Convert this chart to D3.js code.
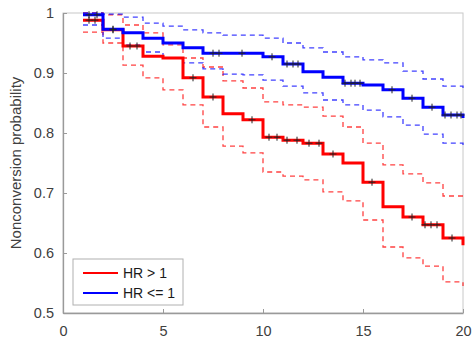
<!DOCTYPE html>
<html>
<head>
<meta charset="utf-8">
<script src="https://cdn.jsdelivr.net/npm/d3@7"></script>
<style>
  body { margin: 0; background: #fff; }
  text { font-family: "Liberation Sans", Arial, sans-serif; }
</style>
</head>
<body>
<script>
// step times (start of each interval), last one is the end of follow-up
const times = [1, 2, 3, 4, 5, 6, 7, 8, 9, 10, 11, 12, 13, 14, 15, 16, 17, 18, 19, 20];

// HR > 1
const redSurv  = [0.988, 0.972, 0.945, 0.928, 0.925, 0.892, 0.86, 0.832, 0.822, 0.793, 0.788, 0.783, 0.765, 0.75, 0.718, 0.677, 0.66, 0.647, 0.625, 0.613];
const redUpper = [1.0, 0.997, 0.98, 0.967, 0.947, 0.925, 0.91, 0.887, 0.875, 0.852, 0.847, 0.843, 0.828, 0.81, 0.783, 0.747, 0.732, 0.717, 0.695, 0.69];
const redLower = [0.968, 0.95, 0.913, 0.892, 0.872, 0.847, 0.81, 0.778, 0.767, 0.735, 0.728, 0.722, 0.702, 0.687, 0.655, 0.61, 0.592, 0.578, 0.552, 0.545];
const redCensor = [1.3, 1.6, 2.5, 3.35, 3.7, 6.5, 7.5, 9.45, 10.3, 10.7, 11.2, 11.7, 12.3, 12.8, 13.5, 15.45, 17.45, 18.1, 18.4, 18.7, 19.45];

// HR <= 1
const blueSurv  = [0.997, 0.973, 0.967, 0.958, 0.95, 0.942, 0.933, 0.933, 0.933, 0.927, 0.915, 0.902, 0.893, 0.883, 0.88, 0.872, 0.858, 0.843, 0.83, 0.825];
const blueUpper = [1.0, 0.998, 0.993, 0.983, 0.978, 0.972, 0.967, 0.963, 0.963, 0.958, 0.95, 0.942, 0.935, 0.927, 0.922, 0.917, 0.903, 0.89, 0.878, 0.875];
const blueLower = [0.98, 0.958, 0.947, 0.935, 0.925, 0.917, 0.907, 0.898, 0.897, 0.888, 0.878, 0.867, 0.855, 0.847, 0.838, 0.827, 0.813, 0.798, 0.783, 0.778];
const blueCensor = [1.3, 1.7, 2.5, 7.5, 7.8, 8.95, 10.45, 11.2, 11.5, 11.75, 14.1, 14.4, 14.6, 14.85, 16.45, 17.45, 18.45, 19.1, 19.4, 19.7, 19.9];

const xTicks = [0, 5, 10, 15, 20];
const yTicks = [0.5, 0.6, 0.7, 0.8, 0.9, 1];
const legendLabels = ["HR > 1", "HR <= 1"];

const W = 472, H = 346;
const margin = {top: 13, right: 9, bottom: 33, left: 63};

const svg = d3.select("body").append("svg")
    .attr("width", W)
    .attr("height", H);

let x = d3.scaleLinear().domain([0, 20]).range([margin.left, W - margin.right]);
let y = d3.scaleLinear().domain([0.5, 1]).range([H - margin.bottom, margin.top]);

// box
svg.append("rect")
    .attr("x", x(0)).attr("y", y(1))
    .attr("width", x(20) - x(0)).attr("height", y(0.5) - y(1))
    .attr("fill", "#fff")
    .attr("stroke", "#c8c8c8")
    .attr("stroke-width", 1);

// axes, ticks pointing inward like matlab
let xAxis = svg.append("g")
    .attr("transform", "translate(0," + y(0.5) + ")")
    .call(d3.axisBottom(x).tickValues(xTicks).tickSizeInner(-4).tickSizeOuter(0).tickPadding(10));
let yAxis = svg.append("g")
    .attr("transform", "translate(" + x(0) + ",0)")
    .call(d3.axisLeft(y).tickValues(yTicks).tickFormat(d3.format("~g")).tickSizeInner(-4).tickSizeOuter(0).tickPadding(9));

[xAxis, yAxis].forEach(function(g) {
    g.select(".domain").attr("stroke", "#9a9a9a").attr("stroke-width", 1.3);
    g.selectAll(".tick line").attr("stroke", "#9a9a9a");
    g.selectAll(".tick text").attr("fill", "#404040").style("font-size", "14.5px");
});
xAxis.selectAll(".tick text").attr("dy", "0.9em");

// y label
svg.append("text")
    .attr("transform", "translate(21," + ((y(1) + y(0.5)) / 2) + ") rotate(-90)")
    .attr("text-anchor", "middle")
    .attr("fill", "#404040")
    .style("font-size", "15px")
    .text("Nonconversion probability");

function stepLine(vals) {
    return d3.line()
        .x(function(d, i) { return x(times[i]); })
        .y(function(d) { return y(d); })
        .curve(d3.curveStepAfter)(vals);
}

function survAt(vals, t) {
    let i = d3.bisectRight(times, t) - 1;
    return vals[Math.max(0, i)];
}

const groups = [
    {color: "#ff0000", surv: redSurv, upper: redUpper, lower: redLower, censor: redCensor},
    {color: "#0000ff", surv: blueSurv, upper: blueUpper, lower: blueLower, censor: blueCensor}
];

// confidence bounds
groups.forEach(function(g) {
    [g.upper, g.lower].forEach(function(vals) {
        svg.append("path")
            .attr("d", stepLine(vals))
            .attr("fill", "none")
            .attr("stroke", g.color)
            .attr("stroke-opacity", 0.75)
            .attr("stroke-width", 1.3)
            .attr("stroke-dasharray", "5,4");
    });
});

// survival curves
groups.forEach(function(g) {
    svg.append("path")
        .attr("d", stepLine(g.surv))
        .attr("fill", "none")
        .attr("stroke", g.color)
        .attr("stroke-width", 3);
});

// censor marks
groups.forEach(function(g) {
    svg.selectAll(null)
        .data(g.censor)
      .enter().append("path")
        .attr("transform", function(d) { return "translate(" + x(d) + "," + y(survAt(g.surv, d)) + ")"; })
        .attr("d", "M-3.5,0H3.5M0,-3.5V3.5")
        .attr("stroke", "#222")
        .attr("stroke-width", 1);
});

// legend
let legend = svg.append("g");
legend.append("rect")
    .attr("x", 73).attr("y", 259)
    .attr("width", 110).attr("height", 46)
    .attr("fill", "#fff")
    .attr("stroke", "#b0b0b0");

legendLabels.forEach(function(lbl, i) {
    let ly = 273 + i * 20;
    legend.append("line")
        .attr("x1", 83).attr("x2", 118)
        .attr("y1", ly).attr("y2", ly)
        .attr("stroke", groups[i].color)
        .attr("stroke-width", 2);
    legend.append("text")
        .attr("x", 123).attr("y", ly)
        .attr("dy", "0.35em")
        .attr("fill", "#1a1a1a")
        .style("font-size", "14px")
        .text(lbl);
});
</script>
</body>
</html>
